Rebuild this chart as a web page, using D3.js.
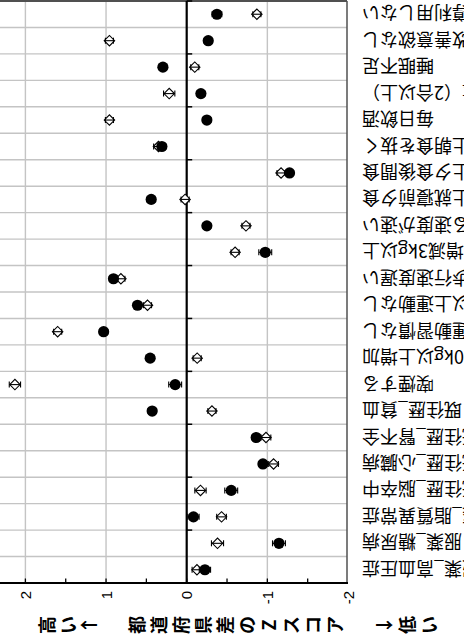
<!DOCTYPE html>
<html><head><meta charset="utf-8">
<script src="https://cdn.jsdelivr.net/npm/d3@7"></script>
<style>html,body{margin:0;padding:0;background:#fff;overflow:hidden}</style>
</head><body>
<svg id="c" width="464" height="644"></svg>
<script>
const categories = ["服薬_高血圧症","服薬_糖尿病","服薬_脂質異常症","既往歴_脳卒中","既往歴_心臓病","既往歴_腎不全","既往歴_貧血","喫煙する","20歳から10kg以上増加","1回30分以上の運動習慣なし","1日1時間以上運動なし","歩行速度遅い","1年間で体重増減3kg以上","食べる速度が速い","週3回以上就寝前夕食","週3回以上夕食後間食","週3回以上朝食を抜く","毎日飲酒","飲酒量（2合以上）","睡眠不足","生活習慣改善意欲なし","保健指導利用しない"];
const circleValues = [-0.226,-1.144,-0.084,-0.552,-0.945,-0.862,0.428,0.143,0.453,1.03,0.61,0.908,-0.974,-0.25,0.44,-1.275,0.308,-0.25,-0.176,0.295,-0.267,-0.375];
const circleErr = [0.07,0.08,0.07,0.08,0.05,0.05,0.05,0.08,0.05,0.05,0.05,0.05,0.08,0.05,0.05,0.05,0.05,0.05,0.05,0.05,0.05,0.06];
const diamondValues = [-0.127,-0.382,-0.432,-0.171,-1.077,-0.983,-0.313,2.13,-0.13,1.60,0.486,0.816,-0.60,-0.735,0.02,-1.17,0.35,0.958,0.217,-0.10,0.958,-0.87];
const diamondErr = [0.06,0.075,0.06,0.07,0.06,0.06,0.05,0.07,0.05,0.05,0.05,0.05,0.05,0.05,0.05,0.05,0.06,0.05,0.07,0.05,0.05,0.05];
const tickValues = [2,1,0,-1,-2];
const minorTicks = [2,1.5,1,0.5,0,-0.5,-1,-1.5];
const gridValues = [2,1,-1];
const titleHigh = ["高","い","↑"];
const titleMain = ["都","道","府","県","差","の","Z","ス","コ","ア"];
const titleLow = ["↓","低","い"];

const svg = d3.select("#c");
// chart is drawn in its own frame (644 wide x 464 tall) and turned a quarter turn
const g = svg.append("g").attr("transform","translate(0,644) rotate(-90)");
const jp = "'Noto Sans CJK JP', 'Noto Sans', sans-serif";

const x = d3.scaleBand().domain(categories).range([61,643]).paddingInner(0).paddingOuter(0);
const y = d3.scaleLinear().domain([-2,2]).range([348,25.4]);
const plotTop = 0, plotBottom = 347;

// gridlines
g.append("g").selectAll("line.vg").data(categories.slice(1)).join("line")
  .attr("x1",d=>x(d)).attr("x2",d=>x(d)).attr("y1",plotTop).attr("y2",plotBottom)
  .attr("stroke","#c4c4c4").attr("stroke-width",1.4);
g.append("g").selectAll("line.hg").data(gridValues).join("line")
  .attr("x1",61).attr("x2",643).attr("y1",d=>y(d)).attr("y2",d=>y(d))
  .attr("stroke","#c4c4c4").attr("stroke-width",1.4);

// borders
g.append("line").attr("x1",643).attr("x2",643).attr("y1",plotTop).attr("y2",plotBottom)
  .attr("stroke","#505050").attr("stroke-width",2);
g.append("line").attr("x1",61).attr("x2",643).attr("y1",plotBottom).attr("y2",plotBottom)
  .attr("stroke","#505050").attr("stroke-width",1.5);

// value axis
g.append("line").attr("x1",61).attr("x2",61).attr("y1",plotTop).attr("y2",plotBottom+1)
  .attr("stroke","#000").attr("stroke-width",2.2);
g.append("g").selectAll("line").data(minorTicks).join("line")
  .attr("x1",61).attr("x2",65.5).attr("y1",d=>y(d)).attr("y2",d=>y(d))
  .attr("stroke","#000").attr("stroke-width",1.3);
g.append("g").selectAll("text").data(tickValues).join("text")
  .attr("x",53).attr("y",d=>y(d)).attr("text-anchor","end").attr("dominant-baseline","central")
  .attr("font-family","'Liberation Sans', Arial, sans-serif").attr("font-size",15).attr("fill","#000")
  .text(d=>d3.format("d")(d).replace("−","-"));

// category axis at zero
const y0 = y(0);
g.append("line").attr("x1",61).attr("x2",643).attr("y1",y0).attr("y2",y0)
  .attr("stroke","#000").attr("stroke-width",2.2);
const bounds = d3.range(0,categories.length+1,2).map(k=>61+k*x.bandwidth());
g.append("g").selectAll("line").data(bounds).join("line")
  .attr("x1",d=>d).attr("x2",d=>d).attr("y1",y0).attr("y2",y0+5.5)
  .attr("stroke","#000").attr("stroke-width",1.5);

// category labels
g.append("g").selectAll("text").data(categories).join("text")
  .attr("transform",d=>`translate(${x(d)+x.bandwidth()/2},362) rotate(-90)`)
  .attr("text-anchor","end").attr("dominant-baseline","central")
  .attr("font-family",jp).attr("font-size",18).attr("fill","#000")
  .text(d=>d);

// title (vertical writing)
function titleRun(chars,start,step){
  g.append("g").selectAll("text").data(chars).join("text")
    .attr("x",19).attr("y",(d,i)=>start+i*step)
    .attr("text-anchor","middle").attr("dominant-baseline","central")
    .attr("font-family",jp).attr("font-size",18).attr("font-weight","bold").attr("fill","#000")
    .text(d=>d);
}
titleRun(titleHigh,46,21);
titleRun(titleMain,136,22);
titleRun(titleLow,383,22.5);

const cx = (d,i)=>x(categories[i])+x.bandwidth()/2;

// diamond series
const dg = g.append("g");
dg.selectAll("path").data(diamondValues).join("path")
  .attr("d",(d,i)=>{const X=cx(d,i),Y=y(d),r=5.2;return `M${X},${Y-r}L${X+r},${Y}L${X},${Y+r}L${X-r},${Y}Z`;})
  .attr("fill","#fff").attr("stroke","#000").attr("stroke-width",1.1);
dg.selectAll("line.e").data(diamondValues).join("line").attr("class","e")
  .attr("x1",cx).attr("x2",cx).attr("y1",(d,i)=>y(d-diamondErr[i])).attr("y2",(d,i)=>y(d+diamondErr[i]))
  .attr("stroke","#000").attr("stroke-width",1.1);
["lo","hi"].forEach(s=>{
  dg.selectAll("line.c"+s).data(diamondValues).join("line").attr("class","c"+s)
    .attr("x1",(d,i)=>cx(d,i)-3).attr("x2",(d,i)=>cx(d,i)+3)
    .attr("y1",(d,i)=>y(s==="lo"?d-diamondErr[i]:d+diamondErr[i]))
    .attr("y2",(d,i)=>y(s==="lo"?d-diamondErr[i]:d+diamondErr[i]))
    .attr("stroke","#000").attr("stroke-width",1.1);
});

// circle series
const cg = g.append("g");
cg.selectAll("line.e").data(circleValues).join("line").attr("class","e")
  .attr("x1",cx).attr("x2",cx).attr("y1",(d,i)=>y(d-circleErr[i])).attr("y2",(d,i)=>y(d+circleErr[i]))
  .attr("stroke","#000").attr("stroke-width",1.1);
["lo","hi"].forEach(s=>{
  cg.selectAll("line.c"+s).data(circleValues).join("line").attr("class","c"+s)
    .attr("x1",(d,i)=>cx(d,i)-3).attr("x2",(d,i)=>cx(d,i)+3)
    .attr("y1",(d,i)=>y(s==="lo"?d-circleErr[i]:d+circleErr[i]))
    .attr("y2",(d,i)=>y(s==="lo"?d-circleErr[i]:d+circleErr[i]))
    .attr("stroke","#000").attr("stroke-width",1.1);
});
cg.selectAll("circle").data(circleValues).join("circle")
  .attr("cx",cx).attr("cy",d=>y(d)).attr("r",5.6).attr("fill","#000");
</script>
</body></html>
